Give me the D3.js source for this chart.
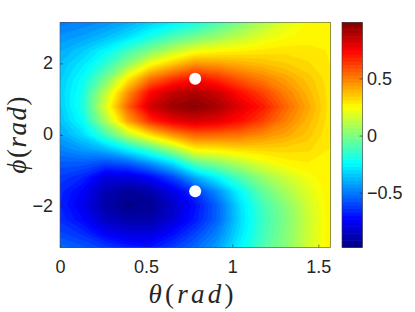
<!DOCTYPE html>
<html>
<head>
<meta charset="utf-8">
<script src="https://cdn.jsdelivr.net/npm/d3@7"></script>
<style>
    html, body { margin: 0; padding: 0; background: #fff; }
    svg { display: block; }
    .tick text { font-family: "Liberation Sans", Arial, sans-serif; font-size: 18px; fill: #262626; }
    .tick line { stroke: #262626; stroke-width: 0.6; }
    .label { font-family: "Liberation Serif", "Times New Roman", serif; font-size: 27px; fill: #262626; }
</style>
</head>
<body>
<div id="chart"></div>
<script>
// grid: theta across (0..pi/2), phi down (pi..-pi)
const THETA = [0, 0.131, 0.262, 0.393, 0.524, 0.654, 0.785, 0.916, 1.047, 1.178, 1.309, 1.440, 1.571];
const PHI = [3.142, 2.749, 2.356, 1.963, 1.571, 1.178, 0.785, 0.393, 0, -0.393, -0.785, -1.178, -1.571, -1.963, -2.356, -2.749, -3.142];

const VALUES = [
    [-0.50, -0.48, -0.45, -0.40, -0.33, -0.27, -0.20, -0.10, 0.00, 0.10, 0.19, 0.25, 0.28],
    [-0.45, -0.42, -0.37, -0.30, -0.20, -0.10, -0.03, 0.05, 0.12, 0.19, 0.24, 0.27, 0.28],
    [-0.40, -0.34, -0.25, -0.12, 0.00, 0.12, 0.22, 0.25, 0.27, 0.29, 0.30, 0.29, 0.28],
    [-0.36, -0.28, -0.15, 0.04, 0.25, 0.37, 0.47, 0.45, 0.41, 0.38, 0.35, 0.32, 0.28],
    [-0.34, -0.23, -0.02, 0.28, 0.52, 0.64, 0.72, 0.66, 0.57, 0.50, 0.43, 0.36, 0.29],
    [-0.33, -0.20, 0.12, 0.46, 0.74, 0.86, 0.90, 0.84, 0.72, 0.62, 0.50, 0.39, 0.29],
    [-0.34, -0.19, 0.18, 0.55, 0.83, 0.93, 0.97, 0.91, 0.80, 0.70, 0.55, 0.42, 0.29],
    [-0.36, -0.23, 0.08, 0.42, 0.66, 0.78, 0.82, 0.79, 0.72, 0.62, 0.50, 0.39, 0.29],
    [-0.41, -0.31, -0.12, 0.12, 0.30, 0.45, 0.55, 0.54, 0.52, 0.47, 0.42, 0.36, 0.28],
    [-0.48, -0.43, -0.37, -0.25, -0.10, 0.08, 0.27, 0.29, 0.32, 0.33, 0.33, 0.32, 0.28],
    [-0.56, -0.56, -0.60, -0.56, -0.45, -0.30, -0.07, 0.02, 0.11, 0.20, 0.26, 0.28, 0.28],
    [-0.62, -0.67, -0.80, -0.80, -0.73, -0.60, -0.40, -0.25, -0.09, 0.05, 0.15, 0.23, 0.28],
    [-0.66, -0.74, -0.88, -0.93, -0.90, -0.78, -0.63, -0.45, -0.24, -0.05, 0.08, 0.19, 0.28],
    [-0.67, -0.77, -0.90, -0.96, -0.94, -0.84, -0.71, -0.54, -0.30, -0.11, 0.02, 0.16, 0.28],
    [-0.65, -0.73, -0.85, -0.90, -0.90, -0.82, -0.69, -0.54, -0.31, -0.13, 0.00, 0.15, 0.28],
    [-0.60, -0.65, -0.75, -0.80, -0.80, -0.72, -0.61, -0.48, -0.29, -0.12, 0.01, 0.15, 0.28],
    [-0.53, -0.57, -0.62, -0.68, -0.70, -0.62, -0.53, -0.42, -0.25, -0.09, 0.02, 0.16, 0.28]
];

// white markers
const MARK_THETA = [0.785, 0.785];
const MARK_PHI = [1.571, -1.571];

const X_TICKS = [0, 0.5, 1, 1.5];
const Y_TICKS = [-2, 0, 2];
const C_TICKS = [-0.5, 0, 0.5];
const C_DOMAIN = [-0.98, 0.99];

const jet = t => {
    const c = v => Math.max(0, Math.min(1, v));
    const r = c(1.5 - Math.abs(4 * t - 3));
    const g = c(1.5 - Math.abs(4 * t - 2));
    const b = c(1.5 - Math.abs(4 * t - 1));
    return d3.rgb(r * 255, g * 255, b * 255).toString();
};

const addLabel = (svg, greek, attrs) => {
    const t = svg.append("text").attr("class", "label");
    Object.entries(attrs).forEach(([k, v]) => t.attr(k, v));
    t.append("tspan").attr("font-style", "italic").text(greek);
    t.append("tspan").text("(");
    t.append("tspan").attr("font-style", "italic").text("rad");
    t.append("tspan").text(")");
    return t;
};

const drawChart = () => {
    const width = 415, height = 312;
    const left = 60, right = 330.5, top = 22.5, bottom = 247.5;
    const cbLeft = 342, cbRight = 362.5;

    const svg = d3.select("#chart").append("svg")
        .attr("width", width)
        .attr("height", height);

    const x = d3.scaleLinear().domain([0, Math.PI / 2]).range([left, right]);
    const y = d3.scaleLinear().domain([-Math.PI, Math.PI]).range([bottom, top]);
    const color = d3.scaleSequential(C_DOMAIN, jet);

    // contour grid -> pixels
    const nx = THETA.length, ny = PHI.length;
    const gx = d3.scaleLinear().domain([0.5, nx - 0.5]).range([x(THETA[0]), x(THETA[nx - 1])]);
    const gy = d3.scaleLinear().domain([0.5, ny - 0.5]).range([y(PHI[0]), y(PHI[ny - 1])]);
    const path = d3.geoPath(d3.geoTransform({
        point(px, py) { this.stream.point(gx(px), gy(py)); }
    }));

    const step = (C_DOMAIN[1] - C_DOMAIN[0]) / 64;
    const thresholds = d3.range(64).map(i => C_DOMAIN[0] + i * step);
    const contours = d3.contours()
        .size([nx, ny])
        .thresholds(thresholds)(VALUES.flat());

    svg.append("clipPath").attr("id", "plot-clip")
        .append("rect")
        .attr("x", left).attr("y", top)
        .attr("width", right - left).attr("height", bottom - top);

    svg.append("g")
        .attr("clip-path", "url(#plot-clip)")
        .selectAll("path")
        .data(contours)
        .join("path")
        .attr("d", path)
        .attr("fill", d => color(d.value + step / 2))
        .attr("stroke", d => color(d.value + step / 2))
        .attr("stroke-width", 0.3);

    svg.selectAll(".marker")
        .data(MARK_THETA)
        .join("circle")
        .attr("class", "marker")
        .attr("cx", d => x(d))
        .attr("cy", (d, i) => y(MARK_PHI[i]))
        .attr("r", 6)
        .attr("fill", "#fff");

    // axes
    const xAxis = svg.append("g")
        .attr("transform", `translate(0,${bottom})`)
        .call(d3.axisBottom(x).tickValues(X_TICKS).tickFormat(d3.format("")).tickSize(-3).tickPadding(13));
    const yAxis = svg.append("g")
        .attr("transform", `translate(${left},0)`)
        .call(d3.axisLeft(y).tickValues(Y_TICKS).tickFormat(d3.format("")).tickSize(-3).tickPadding(7));
    [xAxis, yAxis].forEach(a => a.select(".domain").remove());
    yAxis.selectAll(".tick text").attr("dy", "0.26em");

    svg.append("rect")
        .attr("x", left).attr("y", top)
        .attr("width", right - left).attr("height", bottom - top)
        .attr("fill", "none")
        .attr("stroke", "#555")
        .attr("stroke-width", 0.6);

    // colorbar
    const c = d3.scaleLinear().domain(C_DOMAIN).range([bottom, top]);
    svg.append("g")
        .selectAll("rect")
        .data(thresholds)
        .join("rect")
        .attr("x", cbLeft)
        .attr("width", cbRight - cbLeft)
        .attr("y", d => c(d + step) - 0.3)
        .attr("height", d => c(d) - c(d + step) + 0.6)
        .attr("fill", d => color(d + step / 2));

    const cAxis = svg.append("g")
        .attr("transform", `translate(${cbRight},0)`)
        .call(d3.axisRight(c).tickValues(C_TICKS).tickFormat(d3.format("")).tickSize(-3).tickPadding(4.5));
    cAxis.select(".domain").remove();

    svg.append("rect")
        .attr("x", cbLeft).attr("y", top)
        .attr("width", cbRight - cbLeft).attr("height", bottom - top)
        .attr("fill", "none")
        .attr("stroke", "#333")
        .attr("stroke-width", 0.6);

    // labels
    addLabel(svg, "θ", {
        x: 191, y: 303, "text-anchor": "middle",
        textLength: 85, lengthAdjust: "spacing"
    });
    addLabel(svg, "ϕ", {
        transform: "translate(26,135) rotate(-90)", "text-anchor": "middle",
        textLength: 77, lengthAdjust: "spacing"
    });
};

window.addEventListener("DOMContentLoaded", () => {
    drawChart();
}, {once: true});
</script>
</body>
</html>
